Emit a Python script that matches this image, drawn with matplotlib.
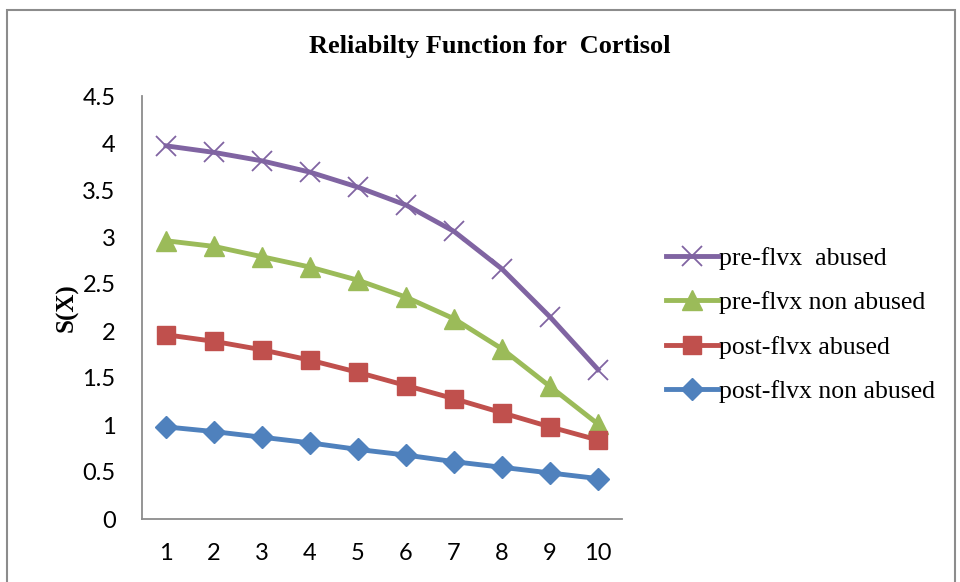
import matplotlib
matplotlib.use("Agg")
import matplotlib.pyplot as plt
from matplotlib.patches import Rectangle

x = list(range(1, 11))
pre_abused = [3.97, 3.90, 3.81, 3.69, 3.53, 3.34, 3.06, 2.66, 2.15, 1.59]
pre_non_abused = [2.96, 2.90, 2.79, 2.68, 2.54, 2.36, 2.13, 1.81, 1.41, 1.01]
post_abused = [1.96, 1.89, 1.80, 1.69, 1.56, 1.42, 1.28, 1.13, 0.98, 0.84]
post_non_abused = [0.98, 0.93, 0.87, 0.81, 0.74, 0.68, 0.61, 0.55, 0.49, 0.43]
labels = ["pre-flvx  abused", "pre-flvx non abused",
          "post-flvx abused", "post-flvx non abused"]

serif = "Liberation Serif"
sans = "Lato"

fig = plt.figure(figsize=(9.6, 5.82), dpi=100)
ax = fig.add_axes([142 / 960, 63 / 582, 480 / 960, 423 / 582])

# outer chart border
fig.patches.append(Rectangle((7 / 960, -0.05), 948 / 960, 1.05 - 10 / 582,
                             transform=fig.transFigure, fill=False,
                             edgecolor="#8c8c8c", linewidth=1.5))

ax.plot(x, pre_abused, color="#8064A2", lw=3.5, marker="x", ms=14, mew=1.3,
        label=labels[0])
ax.plot(x, pre_non_abused, color="#9BBB59", lw=3.5, marker="^", ms=14,
        label=labels[1])
ax.plot(x, post_abused, color="#C0504D", lw=3.5, marker="s", ms=13,
        label=labels[2])
ax.plot(x, post_non_abused, color="#4F81BD", lw=3.5, marker="D", ms=11,
        label=labels[3])

ax.set_xlim(0.5, 10.5)
ax.set_ylim(0, 4.5)
ax.set_xticks(x)
ax.set_yticks([0, 0.5, 1, 1.5, 2, 2.5, 3, 3.5, 4, 4.5])
ax.set_yticklabels(["0", "0.5", "1", "1.5", "2", "2.5", "3", "3.5", "4", "4.5"])
ax.tick_params(length=0, labelsize=17)
ax.tick_params(axis="x", pad=17)
ax.tick_params(axis="y", pad=19)
for lbl in ax.get_xticklabels() + ax.get_yticklabels():
    lbl.set_fontfamily(sans)
for s in ["top", "right"]:
    ax.spines[s].set_visible(False)
for s in ["left", "bottom"]:
    ax.spines[s].set_color("#8c8c8c")
    ax.spines[s].set_linewidth(1.3)

ax.set_ylabel("S(X)", fontfamily=serif, fontweight="bold", fontsize=18, labelpad=3)
fig.text(490 / 960, 1 - 47 / 582, "Reliabilty Function for  Cortisol",
         ha="center", va="center", fontfamily=serif, fontweight="bold", fontsize=19)

ax.legend(loc="center left", bbox_to_anchor=(656 / 960, 1 - 325 / 582),
          bbox_transform=fig.transFigure, frameon=False,
          prop={"family": serif, "size": 18.5}, handlelength=2.0,
          handletextpad=0.05, labelspacing=0.82, borderaxespad=0)

fig.savefig("out.png", dpi=100)
